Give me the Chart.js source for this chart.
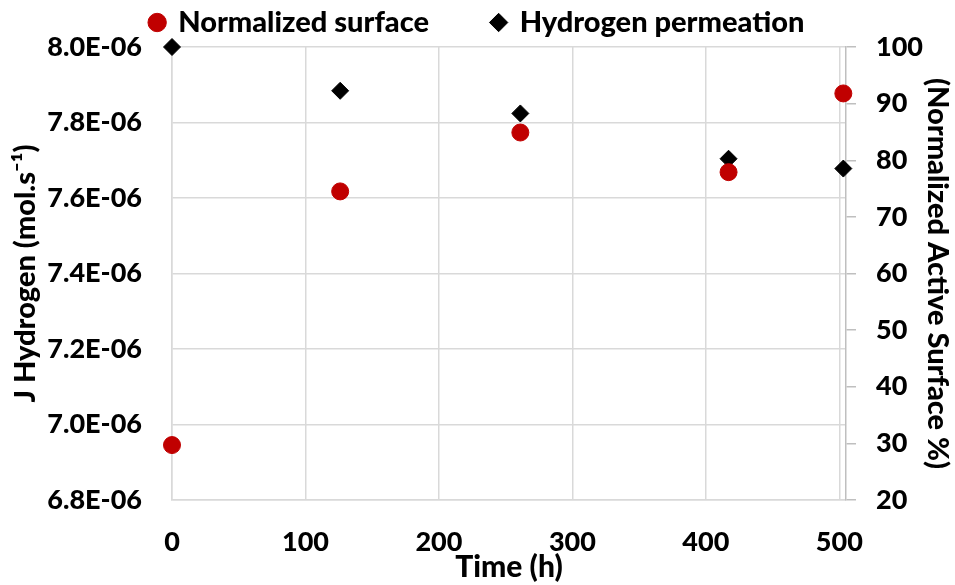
<!DOCTYPE html>
<html>
<head>
<meta charset="utf-8">
<script src="https://cdn.jsdelivr.net/npm/chart.js@4.4.1/dist/chart.umd.min.js"></script>
<style>
  html, body { margin: 0; padding: 0; background: #fff; }
  #wrap { width: 955px; height: 585px; }
</style>
</head>
<body>
<div id="wrap"><canvas id="chart"></canvas></div>
<script>
// values
const timeSurface = [0, 126, 261, 417, 503];
const normalizedSurface = [29.7, 74.5, 84.9, 77.9, 91.8];

const timePermeation = [0, 126, 261, 417, 503];
const hydrogenPermeation = [8.0e-6, 7.884e-6, 7.824e-6, 7.704e-6, 7.678e-6];

const timeTicks = [0, 100, 200, 300, 400, 500];
const jTicks = [6.8e-6, 7.0e-6, 7.2e-6, 7.4e-6, 7.6e-6, 7.8e-6, 8.0e-6];
const surfaceTicks = [20, 30, 40, 50, 60, 70, 80, 90, 100];

const gridGrey = '#d9d9d9';

// 8.0E-06 style
function fmtE(v) {
    const parts = v.toExponential(1).split('e');
    const n = parseInt(parts[1], 10);
    return parts[0] + 'E' + (n < 0 ? '-' : '+') + String(Math.abs(n)).padStart(2, '0');
}

const setTicks = (arr) => (scale) => {
    scale.ticks = arr.map(v => ({ value: v }));
};

Chart.defaults.font.family = 'Lato';
Chart.defaults.font.weight = 900;
Chart.defaults.color = '#000';

const ctx = document.getElementById('chart').getContext('2d');

new Chart(ctx, {
    type: 'scatter',
    data: {
        datasets: [
            {
                label: 'Normalized surface',
                data: timeSurface.map((t, i) => ({ x: t, y: normalizedSurface[i] })),
                yAxisID: 'y2',
                clip: false,
                pointStyle: 'circle',
                pointRadius: 8.5,
                pointHoverRadius: 8.5,
                backgroundColor: '#c00000',
                borderColor: '#c00000',
                borderWidth: 1
            },
            {
                label: 'Hydrogen permeation',
                data: timePermeation.map((t, i) => ({ x: t, y: hydrogenPermeation[i] })),
                yAxisID: 'y',
                clip: false,
                pointStyle: 'rectRot',
                pointRadius: 8.5,
                pointHoverRadius: 8.5,
                backgroundColor: '#000',
                borderColor: '#000',
                borderWidth: 1
            }
        ]
    },
    options: {
        responsive: true,
        maintainAspectRatio: false,
        animation: false,
        devicePixelRatio: 1,
        layout: { padding: 0 },

        scales: {
            x: {
                type: 'linear',
                position: 'bottom',
                min: 0,
                max: 505,
                afterBuildTicks: setTicks(timeTicks),
                afterFit: (s) => { s.height = 85; },
                grid: { color: gridGrey, lineWidth: 1.5, drawTicks: false },
                border: { color: gridGrey, width: 1.5 },
                ticks: { padding: 26, font: { size: 27 } },
                title: {
                    display: true,
                    text: 'Time (h)',
                    font: { size: 30 },
                    padding: { top: 0, bottom: 0 }
                }
            },
            y: {
                type: 'linear',
                position: 'left',
                min: 6.8e-6,
                max: 8.0e-6,
                afterBuildTicks: setTicks(jTicks),
                afterFit: (s) => { s.width = 172; },
                grid: { color: gridGrey, lineWidth: 1.5, drawTicks: false },
                border: { color: gridGrey, width: 1.5 },
                ticks: { padding: 30, font: { size: 27 }, callback: (v) => fmtE(v) },
                title: {
                    display: true,
                    text: 'J Hydrogen (mol.s\u207B\u00B9)',
                    font: { size: 29 },
                    padding: { top: 8, bottom: 0 }
                }
            },
            y2: {
                type: 'linear',
                position: 'right',
                min: 20,
                max: 100,
                afterBuildTicks: setTicks(surfaceTicks),
                afterFit: (s) => { s.width = 109; },
                grid: { drawOnChartArea: false, color: '#bfbfbf', lineWidth: 1.5, tickLength: 10 },
                border: { color: '#bfbfbf', width: 1.5 },
                ticks: { padding: 20, font: { size: 27 } },
                title: {
                    display: true,
                    text: '(Normalized Active Surface %)',
                    font: { size: 29 },
                    padding: { top: 0, bottom: 0 }
                }
            }
        },

        plugins: {
            tooltip: { enabled: false },
            legend: {
                position: 'top',
                labels: {
                    usePointStyle: true,
                    boxWidth: 13,
                    boxHeight: 13,
                    padding: 8,
                    color: '#000',
                    font: { size: 29 },
                    generateLabels: (chart) => {
                        const items = Chart.defaults.plugins.legend.labels.generateLabels(chart);
                        // wider gap between the two entries
                        items[0].text += '\u00A0'.repeat(8);
                        return items;
                    }
                }
            }
        }
    }
});
</script>
</body>
</html>
